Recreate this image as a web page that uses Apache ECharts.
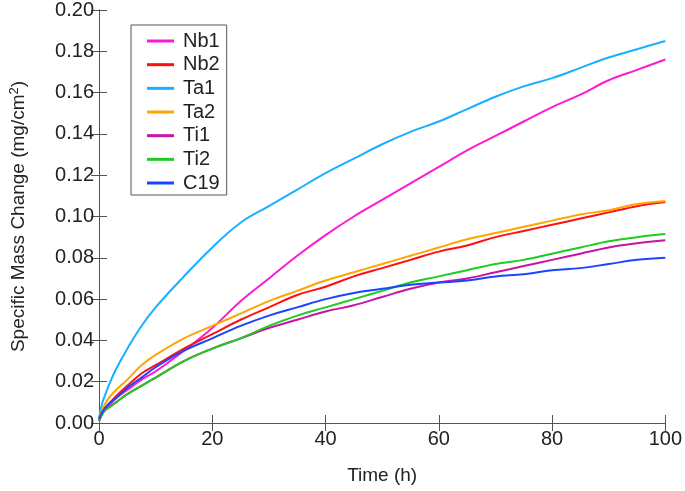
<!DOCTYPE html>
<html><head><meta charset="utf-8">
<script src="https://cdn.jsdelivr.net/npm/echarts@6/dist/echarts.min.js"></script>
<style>html,body{margin:0;padding:0;background:#fff}#c{width:685px;height:491px}</style>
</head><body><div id="c"></div>
<script>
const time = [0, 0.5, 1, 2, 3, 5, 7.5, 10, 15, 20, 25, 30, 35, 40, 45, 50, 55, 60, 65, 70, 75, 80, 85, 90, 95, 100];
const nb1 = [0.001, 0.004, 0.006, 0.009, 0.012, 0.016, 0.021, 0.025, 0.035, 0.046, 0.059, 0.070, 0.081, 0.091, 0.100, 0.108, 0.116, 0.124, 0.132, 0.139, 0.146, 0.153, 0.159, 0.166, 0.171, 0.176];
const nb2 = [0.002, 0.005, 0.007, 0.010, 0.013, 0.018, 0.024, 0.028, 0.036, 0.043, 0.050, 0.056, 0.062, 0.066, 0.071, 0.075, 0.079, 0.083, 0.086, 0.090, 0.093, 0.096, 0.099, 0.102, 0.105, 0.107];
const ta1 = [0.002, 0.009, 0.013, 0.020, 0.026, 0.036, 0.047, 0.056, 0.071, 0.085, 0.097, 0.105, 0.113, 0.121, 0.128, 0.135, 0.141, 0.146, 0.152, 0.158, 0.163, 0.167, 0.172, 0.177, 0.181, 0.185];
const ta2 = [0.002, 0.006, 0.009, 0.013, 0.016, 0.021, 0.028, 0.033, 0.041, 0.047, 0.053, 0.059, 0.064, 0.069, 0.073, 0.077, 0.081, 0.085, 0.089, 0.092, 0.095, 0.098, 0.101, 0.103, 0.106, 0.1075];
const ti1 = [0.001, 0.004, 0.006, 0.008, 0.010, 0.014, 0.018, 0.022, 0.030, 0.036, 0.041, 0.046, 0.050, 0.054, 0.057, 0.061, 0.065, 0.068, 0.070, 0.073, 0.076, 0.079, 0.082, 0.085, 0.087, 0.0885];
const ti2 = [0.001, 0.004, 0.006, 0.008, 0.010, 0.014, 0.018, 0.022, 0.030, 0.036, 0.041, 0.047, 0.052, 0.056, 0.060, 0.064, 0.068, 0.071, 0.074, 0.077, 0.079, 0.082, 0.085, 0.088, 0.090, 0.0915];
const c19 = [0.002, 0.005, 0.007, 0.010, 0.012, 0.017, 0.022, 0.027, 0.035, 0.041, 0.047, 0.052, 0.056, 0.060, 0.063, 0.065, 0.067, 0.068, 0.069, 0.071, 0.072, 0.074, 0.075, 0.077, 0.079, 0.080];
const names = ['Nb1', 'Nb2', 'Ta1', 'Ta2', 'Ti1', 'Ti2', 'C19'];
const values = [nb1, nb2, ta1, ta2, ti1, ti2, c19];
const colors = ['#ff1ad1', '#ff1010', '#18b0ff', '#ffa500', '#c812a8', '#1fcc1f', '#1a44ff'];

const FONT = 'Liberation Sans, Arial, sans-serif';
const AX = '#555';
const FS = 20;
const chart = echarts.init(document.getElementById('c'), null, {renderer: 'canvas'});
const axisCommon = {
  axisLine: {show: true, lineStyle: {color: AX, width: 1}},
  axisTick: {show: true, inside: true, length: 8, lineStyle: {color: AX}},
  splitLine: {show: false}
};
chart.setOption({
  animation: false,
  backgroundColor: '#fff',
  grid: {left: 96, right: 17, top: 7, bottom: 68, containLabel: false},
  legend: {
    orient: 'vertical', left: 131, top: 25,
    data: names,
    borderColor: AX, borderWidth: 1,
    padding: [6, 7, 2, 16],
    itemWidth: 27, itemHeight: 3, itemGap: 3.67,
    icon: 'rect',
    textStyle: {fontFamily: FONT, fontSize: FS, color: '#222', padding: [0, 0, 0, 4]}
  },
  xAxis: [
    Object.assign({
      type: 'value', min: 0, max: 100, interval: 20, position: 'bottom',
      name: 'Time (h)', nameLocation: 'middle', nameGap: 43,
      nameTextStyle: {fontFamily: FONT, fontSize: FS - 1, color: '#222'},
      axisLabel: {fontFamily: FONT, fontSize: FS, color: '#222', margin: 6}
    }, axisCommon),
    Object.assign({
      type: 'value', min: 0, max: 100, interval: 20, position: 'top',
      axisLabel: {show: false}
    }, axisCommon)
  ],
  yAxis: [
    Object.assign({
      type: 'value', min: 0, max: 0.2, interval: 0.02, position: 'left',
      name: '{a|Specific Mass Change (mg/cm}{s|2}{a|)}', nameLocation: 'middle', nameGap: 70,
      nameTextStyle: {rich: {
        a: {fontFamily: FONT, fontSize: FS - 1, color: '#222'},
        s: {fontFamily: FONT, fontSize: 13, color: '#222', verticalAlign: 'top', padding: [0, 0, 8, 0]}
      }},
      axisLabel: {fontFamily: FONT, fontSize: FS, color: '#222', margin: 5,
        formatter: v => v.toFixed(2)}
    }, axisCommon),
    Object.assign({
      type: 'value', min: 0, max: 0.2, interval: 0.02, position: 'right',
      axisLabel: {show: false}
    }, axisCommon)
  ],
  series: names.map((n, i) => ({
    name: n, type: 'line', xAxisIndex: 0, yAxisIndex: 0,
    data: time.map((t, k) => [t, values[i][k]]),
    showSymbol: false, symbol: 'none', smooth: 0.4,
    lineStyle: {color: colors[i], width: 2},
    itemStyle: {color: colors[i]}
  }))
});
</script></body></html>
